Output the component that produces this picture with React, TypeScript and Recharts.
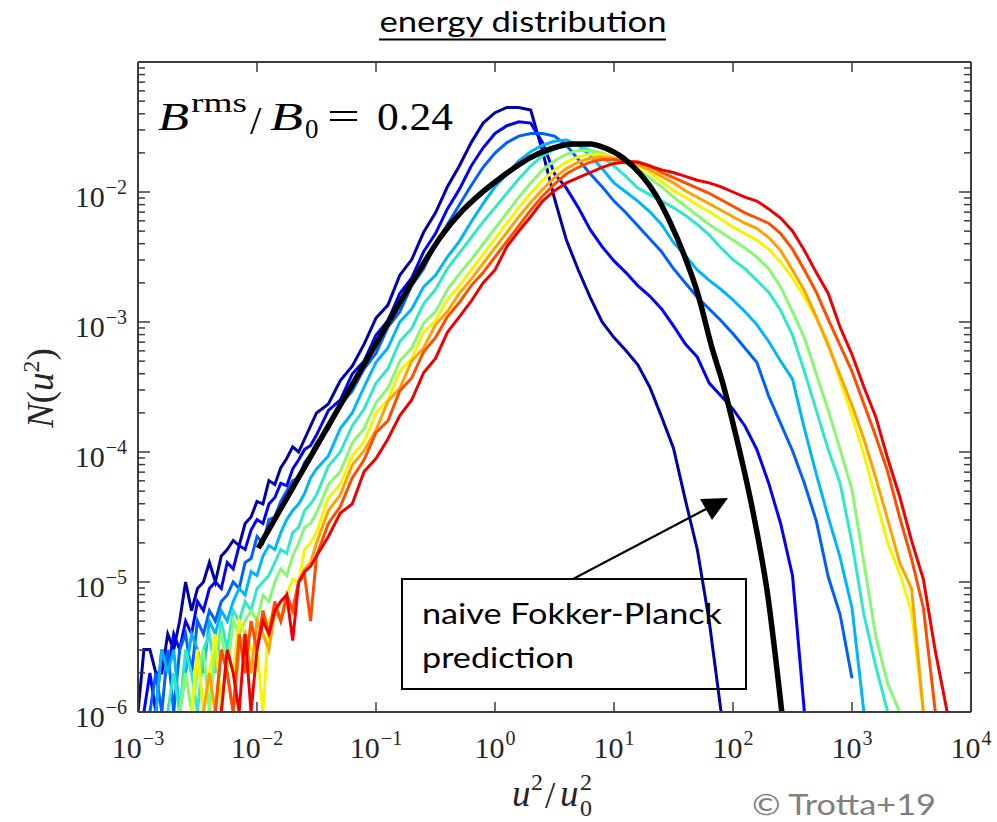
import { LineChart, Line, XAxis, YAxis } from "recharts";

const _ = null;

// log10(u^2/u0^2) sample grid: 0.05 dex in the noisy low-energy part, 0.1 dex after
const LOG_X = [
  -3.0, -2.95, -2.9, -2.85, -2.8, -2.75, -2.7, -2.65, -2.6, -2.55,
  -2.5, -2.45, -2.4, -2.35, -2.3, -2.25, -2.2, -2.15, -2.1, -2.05,
  -2.0, -1.95, -1.9, -1.85, -1.8, -1.75, -1.7, -1.65, -1.6, -1.55,
  -1.5, -1.4, -1.3, -1.2, -1.1,
  -1.0, -0.9, -0.8, -0.7, -0.6, -0.5, -0.4, -0.3, -0.2, -0.1,
  0.0, 0.1, 0.2, 0.3, 0.4, 0.5, 0.6, 0.7, 0.8, 0.9,
  1.0, 1.1, 1.2, 1.3, 1.4, 1.5, 1.6, 1.7, 1.8, 1.9,
  2.0, 2.1, 2.2, 2.3, 2.4, 2.5, 2.6, 2.7, 2.8, 2.9,
  3.0, 3.1, 3.2, 3.3, 3.4, 3.5, 3.6, 3.7, 3.8,
];

// log10 N(u^2) for each snapshot (earliest first)
const N_T1 = [
  -6.0, -5.52, -5.52, -5.7, -5.7, -5.4, -5.52, -5.3, -5.0, -5.22,
  -5.05, -5.0, -4.85, -5.0, -4.8, -4.75, -4.68, -4.72, -4.55, -4.5,
  -4.38, -4.4, -4.22, -4.25, -4.12, -4.05, -3.96, -4.0, -3.9, -3.8,
  -3.7, -3.63, -3.45, -3.34, -3.17,
  -2.97, -2.87, -2.64, -2.52, -2.31, -2.16, -1.96, -1.8, -1.62, -1.47,
  -1.39, -1.35, -1.35, -1.37, -1.69, -2.05, -2.37, -2.6, -2.81, -3.0,
  -3.12, -3.22, -3.33, -3.5, -3.73, -3.97, -4.37, -4.75, -5.3, -6.0,
  _, _, _, _, _, _, _, _, _, _,
  _, _, _, _, _, _, _, _, _,
];
const N_T2 = [
  _, -6.0, -5.7, -6.0, -5.52, -5.7, -5.4, -5.52, -5.3, -5.4,
  -5.15, -5.22, -5.05, -5.0, -5.05, -4.85, -4.9, -4.72, -4.75, -4.6,
  -4.52, -4.55, -4.4, -4.35, -4.24, -4.26, -4.13, -4.06, -3.98, -3.95,
  -3.87, -3.68, -3.6, -3.4, -3.3,
  -3.1, -2.99, -2.78, -2.66, -2.46, -2.32, -2.13, -1.98, -1.8, -1.66,
  -1.55, -1.49, -1.46, -1.47, -1.62, -1.86, -1.97, -2.12, -2.29, -2.42,
  -2.53, -2.62, -2.72, -2.8, -2.9, -3.03, -3.17, -3.27, -3.47, -3.57,
  -3.67, -3.8, -3.98, -4.24, -4.55, -4.95, -6.0, _, _, _,
  _, _, _, _, _, _, _, _, _,
];
const N_T3 = [
  _, _, -6.0, -5.7, -6.0, -5.52, -6.0, -5.52, -5.4, -5.7,
  -5.3, -5.4, -5.22, -5.3, -5.15, -5.1, -5.0, -5.05, -4.85, -4.82,
  -4.65, -4.7, -4.52, -4.5, -4.38, -4.3, -4.22, -4.2, -4.08, -4.02,
  -3.93, -3.82, -3.64, -3.53, -3.36,
  -3.24, -3.04, -2.92, -2.72, -2.59, -2.4, -2.25, -2.1, -1.95, -1.81,
  -1.7, -1.62, -1.57, -1.55, -1.55, -1.57, -1.64, -1.75, -1.86, -1.96,
  -2.07, -2.16, -2.26, -2.36, -2.46, -2.59, -2.7, -2.81, -2.9, -2.99,
  -3.09, -3.2, -3.31, -3.57, -3.78, -3.99, -4.24, -4.53, -4.96, -5.25,
  -5.74, _, _, _, _, _, _, _, _,
];
const N_T4 = [
  _, _, _, -6.0, -5.52, -5.7, -5.52, -6.0, -5.7, -5.4,
  -5.52, -5.7, -5.3, -5.4, -5.22, -5.3, -5.15, -5.05, -5.1, -4.92,
  -4.95, -4.8, -4.72, -4.75, -4.62, -4.52, -4.45, -4.4, -4.32, -4.2,
  -4.13, -4.03, -3.82, -3.7, -3.5,
  -3.31, -3.2, -3.0, -2.9, -2.73, -2.64, -2.5, -2.38, -2.23, -2.09,
  -1.96, -1.86, -1.76, -1.69, -1.64, -1.61, -1.6, -1.64, -1.72, -1.82,
  -1.93, -2.0, -2.07, -2.15, -2.25, -2.39, -2.49, -2.6, -2.68, -2.75,
  -2.83, -2.92, -3.02, -3.15, -3.3, -3.44, -3.82, -4.17, -4.5, -4.81,
  -5.2, -6.0, _, _, _, _, _, _, _,
];
const N_T5 = [
  _, _, _, _, _, -6.0, -5.7, -6.0, -5.52, -5.7,
  -6.0, -5.52, -5.4, -5.7, -5.3, -5.52, -5.22, -5.3, -5.15, -5.22,
  -5.05, -5.0, -4.95, -4.85, -4.75, -4.78, -4.62, -4.58, -4.45, -4.4,
  -4.33, -4.11, -4.0, -3.8, -3.67,
  -3.47, -3.36, -3.15, -3.05, -2.86, -2.75, -2.59, -2.47, -2.35, -2.23,
  -2.12, -2.01, -1.9, -1.8, -1.72, -1.67, -1.64, -1.64, -1.68, -1.73,
  -1.8, -1.88, -1.97, -2.02, -2.07, -2.12, -2.18, -2.25, -2.33, -2.43,
  -2.52, -2.59, -2.68, -2.77, -2.91, -3.1, -3.38, -3.68, -3.98, -4.24,
  -4.7, -5.25, -5.65, -6.0, _, _, _, _, _,
];
const N_T6 = [
  _, _, _, _, _, _, _, -6.0, -5.7, -6.0,
  -5.7, -5.52, -6.0, -5.52, -5.4, -5.7, -5.3, -5.4, -5.3, -5.22,
  -5.3, -5.1, -5.15, -5.0, -4.9, -4.95, -4.8, -4.7, -4.58, -4.55,
  -4.47, -4.25, -4.15, -3.93, -3.82,
  -3.62, -3.51, -3.3, -3.2, -3.01, -2.92, -2.75, -2.63, -2.52, -2.4,
  -2.28, -2.16, -2.04, -1.93, -1.83, -1.76, -1.71, -1.68, -1.68, -1.7,
  -1.74, -1.78, -1.83, -1.89, -1.96, -2.04, -2.11, -2.18, -2.25, -2.31,
  -2.37, -2.43, -2.5, -2.59, -2.73, -2.92, -3.12, -3.4, -3.68, -3.98,
  -4.29, -4.85, -5.42, -5.78, -6.0, _, _, _, _,
];
const N_T7 = [
  _, _, _, _, _, _, _, _, _, -6.0,
  -5.52, -6.0, -5.7, -5.4, -6.0, -5.52, -5.7, -5.3, -5.4, -5.52,
  -5.52, -6.0, -5.3, -5.22, -5.15, -5.1, -4.98, -5.0, -4.75, -4.7,
  -4.62, -4.35, -4.25, -4.03, -3.92,
  -3.7, -3.6, -3.38, -3.28, -3.08, -2.99, -2.83, -2.72, -2.6, -2.48,
  -2.36, -2.24, -2.12, -2.01, -1.91, -1.83, -1.77, -1.73, -1.71, -1.71,
  -1.74, -1.77, -1.8, -1.85, -1.92, -1.99, -2.04, -2.1, -2.15, -2.21,
  -2.27, -2.32, -2.37, -2.44, -2.54, -2.66, -2.81, -2.97, -3.16, -3.45,
  -3.72, -4.02, -4.36, -4.7, -4.93, -5.23, -6.0, _, _,
];
const N_T8 = [
  _, _, _, _, _, _, _, _, _, _,
  _, -6.0, -5.7, -6.0, -5.52, -5.7, -6.0, -5.52, -5.4, -5.7,
  -5.3, -5.4, -5.52, -5.22, -5.3, -5.15, -5.22, -5.0, -4.9, -4.85,
  -4.7, -4.45, -4.33, -4.1, -3.99,
  -3.83, -3.61, -3.51, -3.3, -3.2, -3.02, -2.92, -2.78, -2.67, -2.55,
  -2.43, -2.31, -2.19, -2.08, -1.98, -1.89, -1.82, -1.77, -1.74, -1.73,
  -1.74, -1.76, -1.79, -1.83, -1.88, -1.93, -1.99, -2.04, -2.09, -2.14,
  -2.19, -2.24, -2.28, -2.35, -2.45, -2.6, -2.76, -2.96, -3.18, -3.41,
  -3.64, -3.9, -4.2, -4.52, -4.85, -5.05, -6.0, _, _,
];
const N_T9 = [
  _, _, _, _, _, _, _, _, _, _,
  _, _, _, -6.0, -5.52, -5.7, -6.0, -5.4, -5.7, -5.3,
  -5.52, -5.22, -5.4, -5.15, -5.3, -5.1, -5.22, -5.0, -4.95, -5.3,
  -4.8, -4.55, -4.42, -4.2, -4.06,
  -3.85, -3.76, -3.53, -3.43, -3.23, -3.12, -2.96, -2.85, -2.72, -2.62,
  -2.5, -2.38, -2.26, -2.14, -2.03, -1.94, -1.86, -1.81, -1.77, -1.75,
  -1.75, -1.76, -1.77, -1.8, -1.85, -1.89, -1.93, -1.97, -2.01, -2.06,
  -2.11, -2.16, -2.2, -2.24, -2.32, -2.44, -2.6, -2.77, -2.98, -3.18,
  -3.38, -3.63, -3.88, -4.15, -4.5, -4.82, -5.2, -6.0, _,
];
const N_T10 = [
  _, _, _, _, _, _, _, _, _, _,
  _, _, _, _, -6.0, -5.52, -5.7, -6.0, -5.4, -6.0,
  -5.52, -5.3, -5.4, -5.22, -5.15, -5.1, -5.45, -5.0, -4.92, -4.88,
  -4.8, -4.65, -4.47, -4.4, -4.15,
  -4.05, -3.9, -3.72, -3.6, -3.39, -3.28, -3.08, -2.96, -2.84, -2.7,
  -2.6, -2.42, -2.3, -2.19, -2.07, -1.99, -1.93, -1.89, -1.85, -1.81,
  -1.78, -1.77, -1.77, -1.8, -1.83, -1.85, -1.88, -1.91, -1.93, -1.96,
  -2.0, -2.04, -2.07, -2.13, -2.2, -2.3, -2.45, -2.62, -2.78, -3.04,
  -3.25, -3.5, -3.73, -4.05, -4.34, -4.68, -4.98, -5.53, -6.0,
];

// naive Fokker-Planck prediction (log10 x, log10 N)
const FP_LOG_X = [
  -1.99, -1.64, -1.3, -1.03, -0.8, -0.6, -0.46, -0.27, -0.13, 0.02, 0.17, 0.29,
  0.46, 0.66, 0.8, 0.92, 1.08, 1.22, 1.35, 1.47, 1.6, 1.7, 1.83, 1.92, 2.0,
  2.17, 2.29, 2.41,
];
const FP_LOG_N = [
  -4.74, -4.18, -3.64, -3.215, -2.85, -2.55, -2.35, -2.14, -2.02, -1.91, -1.81, -1.74,
  -1.67, -1.63, -1.63, -1.66, -1.74, -1.86, -2.02, -2.23, -2.51, -2.77, -3.22, -3.49, -3.78,
  -4.47, -5.09, -6.0,
];

const CURVES = [N_T1, N_T2, N_T3, N_T4, N_T5, N_T6, N_T7, N_T8, N_T9, N_T10];
const CURVE_COLORS = [
  "#0000a8", "#0000ff", "#0060ff", "#00b4ff", "#30e8c8",
  "#88f870", "#f5f500", "#ffa200", "#ff4d00", "#f00000",
];

const X_TICKS = [1e-3, 1e-2, 1e-1, 1, 10, 100, 1e3, 1e4];
const Y_TICKS = [1e-6, 1e-5, 1e-4, 1e-3, 1e-2, 1e-1];
const Y_MINOR = Y_TICKS.slice(0, -1).flatMap((d) => [2, 3, 4, 5, 6, 7, 8, 9].map((m) => m * d));
const Y_ALL = [...Y_TICKS, ...Y_MINOR].sort((a, b) => a - b);

const chartData = LOG_X.map((lx, i) => {
  const row: Record<string, number | null> = { x: Math.pow(10, lx) };
  CURVES.forEach((vals, k) => {
    const v = vals[i];
    row[`c${k}`] = v === null ? null : Math.pow(10, v);
  });
  return row;
});
const fpData = FP_LOG_X.map((lx, i) => ({ x: Math.pow(10, lx), y: Math.pow(10, FP_LOG_N[i]) }));

const PLOT = { left: 138, right: 971, top: 62, bottom: 712 };
const FRAME = "#3c3c3c";
const LABEL = "#262626";
const SERIF = "'Liberation Serif', 'Times New Roman', serif";
const SANS = "Lato, 'Open Sans', sans-serif";

const isMajor = (v: number) => {
  const l = Math.log10(v);
  return Math.abs(l - Math.round(l)) < 1e-6;
};

const expText = (e: number) => (e < 0 ? `\u2212${-e}` : `${e}`);

const BottomTick = (props: any) => {
  const { x, payload } = props;
  const exp = Math.round(Math.log10(payload.value));
  return (
    <g>
      <line x1={x} x2={x} y1={PLOT.bottom} y2={PLOT.bottom - 10} stroke={FRAME} strokeWidth={1.5} />
      <text x={x} y={PLOT.bottom + 46} textAnchor="middle" fontFamily={SERIF} fontSize={30} fill={LABEL}>
        10<tspan dx={1} dy={-13} fontSize={20}>{expText(exp)}</tspan>
      </text>
    </g>
  );
};

const TopTick = (props: any) => {
  const { x } = props;
  return <line x1={x} x2={x} y1={PLOT.top} y2={PLOT.top + 10} stroke={FRAME} strokeWidth={1.5} />;
};

const LeftTick = (props: any) => {
  const { y, payload } = props;
  const major = isMajor(payload.value);
  const exp = Math.round(Math.log10(payload.value));
  return (
    <g>
      <line x1={PLOT.left} x2={PLOT.left + (major ? 12 : 7)} y1={y} y2={y} stroke={FRAME} strokeWidth={1.5} />
      {major && exp < -1 && (
        <text x={127} y={y + 15} textAnchor="end" fontFamily={SERIF} fontSize={30} fill={LABEL}>
          10<tspan dx={1} dy={-13} fontSize={20}>{expText(exp)}</tspan>
        </text>
      )}
    </g>
  );
};

const RightTick = (props: any) => {
  const { y, payload } = props;
  const major = isMajor(payload.value);
  return (
    <line x1={PLOT.right} x2={PLOT.right - (major ? 12 : 7)} y1={y} y2={y} stroke={FRAME} strokeWidth={1.5} />
  );
};

const Overlay = () => (
  <svg
    width={997}
    height={822}
    style={{ position: "absolute", left: 0, top: 0, pointerEvents: "none" }}
  >
    {/* title */}
    <text x={523} y={32} textAnchor="middle" fontFamily={SANS} fontSize={29} fill="#000"
      textLength={287} lengthAdjust="spacingAndGlyphs">
      energy distribution
    </text>
    <line x1={379} x2={666} y1={39.5} y2={39.5} stroke="#000" strokeWidth={2} />

    {/* B^rms / B_0 = 0.24 */}
    <g fontFamily={SERIF} fill="#000">
      <text x={158} y={130} fontSize={41} fontStyle="italic" textLength={31} lengthAdjust="spacingAndGlyphs">B</text>
      <text x={191} y={112} fontSize={27} textLength={56} lengthAdjust="spacingAndGlyphs">rms</text>
      <text x={250} y={134} fontSize={41}>/</text>
      <text x={270} y={130} fontSize={41} fontStyle="italic" textLength={33} lengthAdjust="spacingAndGlyphs">B</text>
      <text x={305} y={138} fontSize={27}>0</text>
      <text x={327} y={130} fontSize={41} textLength={33} lengthAdjust="spacingAndGlyphs">=</text>
      <text x={377} y={130} fontSize={41} textLength={76} lengthAdjust="spacingAndGlyphs">0.24</text>
    </g>

    {/* annotation box + arrow */}
    <rect x={402} y={579} width={344} height={110} fill="none" stroke="#000" strokeWidth={2} />
    <text x={422} y={624} fontFamily={SANS} fontSize={29} fill="#000" textLength={300} lengthAdjust="spacingAndGlyphs">
      naive Fokker-Planck
    </text>
    <text x={422} y={668} fontFamily={SANS} fontSize={29} fill="#000" textLength={152} lengthAdjust="spacingAndGlyphs">
      prediction
    </text>
    <line x1={573} y1={579} x2={706} y2={509} stroke="#000" strokeWidth={2} />
    <polygon points="728,498 700,499 712,520" fill="#000" />

    {/* y label */}
    <g transform="translate(53,388) rotate(-90)">
      <text x={0} y={0} textAnchor="middle" fontFamily={SERIF} fontSize={37} fill={LABEL}>
        <tspan fontStyle="italic">N</tspan>
        <tspan>(</tspan>
        <tspan fontStyle="italic">u</tspan>
        <tspan dy={-14} fontSize={24}>2</tspan>
        <tspan dy={14}>)</tspan>
      </text>
    </g>

    {/* x label */}
    <g fontFamily={SERIF} fill={LABEL}>
      <text x={512} y={806} fontSize={37} fontStyle="italic">u</text>
      <text x={531} y={790} fontSize={24}>2</text>
      <text x={545} y={808} fontSize={37}>/</text>
      <text x={560} y={806} fontSize={37} fontStyle="italic">u</text>
      <text x={580} y={790} fontSize={24}>2</text>
      <text x={580} y={816} fontSize={24}>0</text>
    </g>

    {/* credit */}
    <text x={752} y={815} fontFamily={SANS} fontSize={29} fill="#7f7f7f" textLength={184} lengthAdjust="spacingAndGlyphs">
      © Trotta+19
    </text>
  </svg>
);

export default function App() {
  return (
    <div style={{ position: "absolute", left: 0, top: 0, width: 997, height: 822, background: "#fff" }}>
      <LineChart
        width={997}
        height={822}
        data={chartData}
        margin={{ top: 61, right: 25, bottom: 60, left: 78 }}
      >
        <XAxis
          dataKey="x"
          type="number"
          scale="log"
          domain={[1e-3, 1e4]}
          allowDataOverflow
          ticks={X_TICKS}
          interval={0}
          tick={(p: any) => <BottomTick {...p} />}
          tickLine={false}
          axisLine={{ stroke: FRAME, strokeWidth: 2 }}
          height={50}
        />
        <XAxis
          xAxisId="top"
          orientation="top"
          dataKey="x"
          type="number"
          scale="log"
          domain={[1e-3, 1e4]}
          allowDataOverflow
          ticks={X_TICKS}
          interval={0}
          tick={(p: any) => <TopTick {...p} />}
          tickLine={false}
          axisLine={{ stroke: FRAME, strokeWidth: 2 }}
          height={1}
        />
        <YAxis
          type="number"
          scale="log"
          domain={[1e-6, 1e-1]}
          allowDataOverflow
          ticks={Y_ALL}
          interval={0}
          tick={(p: any) => <LeftTick {...p} />}
          tickLine={false}
          axisLine={{ stroke: FRAME, strokeWidth: 2 }}
          width={60}
        />
        <YAxis
          yAxisId="right"
          orientation="right"
          type="number"
          scale="log"
          domain={[1e-6, 1e-1]}
          allowDataOverflow
          ticks={Y_ALL}
          interval={0}
          tick={(p: any) => <RightTick {...p} />}
          tickLine={false}
          axisLine={{ stroke: FRAME, strokeWidth: 2 }}
          width={1}
        />
        {CURVES.map((_v, k) => (
          <Line
            key={`c${k}`}
            dataKey={`c${k}`}
            stroke={CURVE_COLORS[k]}
            strokeWidth={3}
            dot={false}
            type="linear"
            isAnimationActive={false}
          />
        ))}
        <Line
          data={fpData}
          dataKey="y"
          stroke="#000"
          strokeWidth={5.5}
          dot={false}
          type="monotone"
          isAnimationActive={false}
        />
      </LineChart>
      <Overlay />
    </div>
  );
}
